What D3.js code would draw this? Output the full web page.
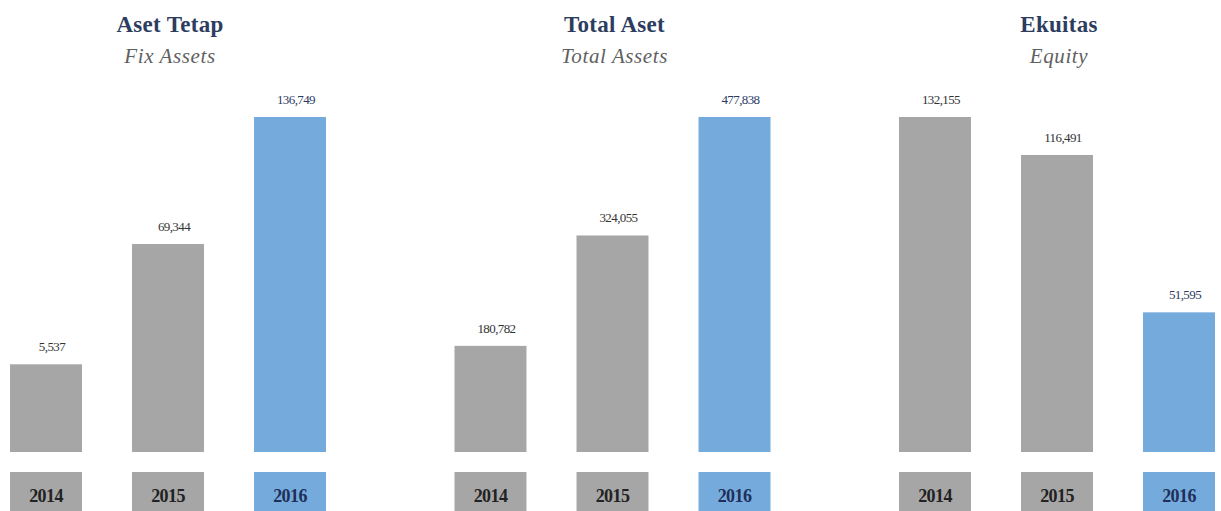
<!DOCTYPE html>
<html>
<head>
<meta charset="utf-8">
<script src="https://cdn.jsdelivr.net/npm/d3@7"></script>
<style>
  body { margin: 0; background: #fff; }
  svg { display: block; }
  text { font-family: "Liberation Serif", "DejaVu Serif", serif; }
</style>
</head>
<body>
<svg id="chart"></svg>
<script>
(function (w) {
  // data
  const years = ['2014', '2015', '2016']
  const titles = ['Aset Tetap', 'Total Aset', 'Ekuitas']
  const subtitles = ['Fix Assets', 'Total Assets', 'Equity']
  const fixAssets = [5537, 69344, 136749]
  const totalAssets = [180782, 324055, 477838]
  const equity = [132155, 116491, 51595]
  const panelValues = [fixAssets, totalAssets, equity]
  // the original bars do not start at zero, each panel has its own floor
  const domainFloor = [-41000, 43000, -6000]

  const width = 1221
  const height = 511
  const baseY = 452
  const topY = 117
  const grey = '#a6a6a6'
  const blue = '#75abdc'

  const svg = w.d3.select('#chart')
    .attr('width', width)
    .attr('height', height)

  const panelX = w.d3.scaleBand()
    .domain(titles)
    .range([10, 10 + 3 * 444.5])
    .paddingInner(0)

  const x = w.d3.scaleBand()
    .domain(years)
    .range([0, 316])
    .paddingInner(0.41)
    .paddingOuter(0)

  const fmt = w.d3.format(',')

  titles.forEach(function (t, i) {
    const vals = panelValues[i]
    const y = w.d3.scaleLinear()
      .domain([domainFloor[i], w.d3.max(vals)])
      .range([baseY, topY])

    const g = svg.append('g')
      .attr('transform', `translate(${panelX(t)},0)`)

    const cx = x('2015') + x.bandwidth() / 2

    g.append('text')
      .attr('x', cx + 2)
      .attr('y', 32)
      .attr('text-anchor', 'middle')
      .attr('font-size', 23)
      .attr('font-weight', 'bold')
      .attr('letter-spacing', 0.3)
      .attr('fill', '#2c3d60')
      .text(t)

    g.append('text')
      .attr('x', cx + 2)
      .attr('y', 63)
      .attr('text-anchor', 'middle')
      .attr('font-size', 21)
      .attr('font-style', 'italic')
      .attr('letter-spacing', 0.6)
      .attr('fill', '#5f5f5f')
      .text(subtitles[i])

    const bar = g.selectAll('g.bar')
      .data(vals)
      .enter().append('g')
      .attr('class', 'bar')

    bar.append('rect')
      .attr('x', function (d, j) { return x(years[j]) })
      .attr('y', function (d) { return y(d) })
      .attr('width', x.bandwidth())
      .attr('height', function (d) { return baseY - y(d) })
      .attr('fill', function (d, j) { return j === 2 ? blue : grey })

    bar.append('text')
      .attr('x', function (d, j) { return x(years[j]) + x.bandwidth() / 2 + 6 })
      .attr('y', function (d) { return y(d) - 13 })
      .attr('text-anchor', 'middle')
      .attr('font-size', 13)
      .attr('letter-spacing', -0.6)
      .attr('fill', function (d, j) { return j === 2 ? '#2b3a63' : '#333' })
      .text(function (d) { return fmt(d) })

    const yr = g.selectAll('g.year')
      .data(years)
      .enter().append('g')
      .attr('class', 'year')

    yr.append('rect')
      .attr('x', function (d) { return x(d) })
      .attr('y', 472)
      .attr('width', x.bandwidth())
      .attr('height', 40)
      .attr('fill', function (d, j) { return j === 2 ? blue : grey })

    yr.append('text')
      .attr('x', function (d) { return x(d) + x.bandwidth() / 2 })
      .attr('y', 502)
      .attr('text-anchor', 'middle')
      .attr('font-size', 18)
      .attr('font-weight', 'bold')
      .attr('letter-spacing', -0.6)
      .attr('fill', function (d, j) { return j === 2 ? '#1f2f5a' : '#222' })
      .text(function (d) { return d })
  })
})(window)
</script>
</body>
</html>
